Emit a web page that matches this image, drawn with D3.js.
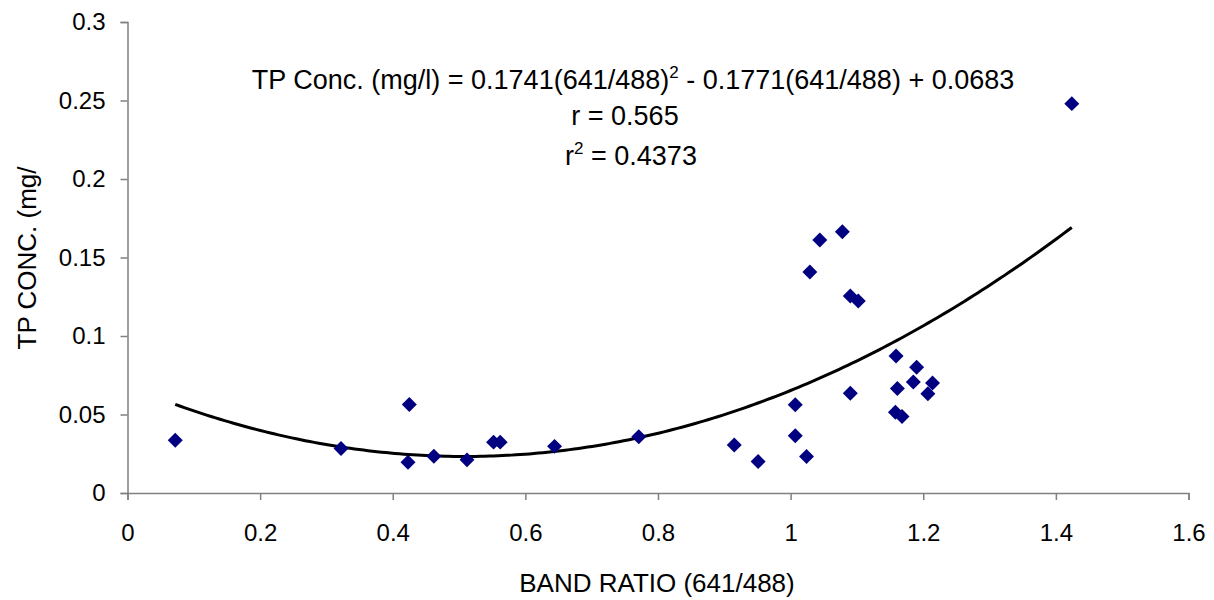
<!DOCTYPE html>
<html>
<head>
<meta charset="utf-8">
<script src="https://cdn.jsdelivr.net/npm/d3@7"></script>
<style>
  html, body { margin: 0; padding: 0; background: #fff; }
  svg { display: block; font-family: "Liberation Sans", Arial, sans-serif; }
</style>
</head>
<body>
<svg id="chart" width="1214" height="600"></svg>
<script>
// Band ratio (641/488) vs. measured total phosphorus concentration
const bandRatio = [
  0.072, 0.322, 0.425, 0.423, 0.462, 0.512, 0.552, 0.562, 0.644, 0.771,
  0.915, 0.951, 1.007, 1.007, 1.024, 1.029, 1.044, 1.078, 1.090, 1.102,
  1.090, 1.159, 1.161, 1.158, 1.168, 1.190, 1.185, 1.214, 1.207, 1.424
];
const tpConc = [
  0.0336, 0.0283, 0.0563, 0.0196, 0.0234, 0.0211, 0.0324, 0.0324, 0.0297, 0.0358,
  0.0306, 0.0200, 0.0562, 0.0365, 0.0232, 0.1408, 0.1611, 0.1664, 0.1255, 0.1223,
  0.0635, 0.0873, 0.0665, 0.0514, 0.0487, 0.0801, 0.0707, 0.0700, 0.0632, 0.2480
];

// Quadratic trend coefficients [a, b, c] : y = a·x² + b·x + c
const trendCoef = [0.1741, -0.1771, 0.0683];

const xTicks = [0, 0.2, 0.4, 0.6, 0.8, 1, 1.2, 1.4, 1.6];
const yTicks = [0, 0.05, 0.1, 0.15, 0.2, 0.25, 0.3];

const svg = d3.select("#chart");
const plot = { left: 127.5, right: 1188.5, top: 22, bottom: 493 };

const x = d3.scaleLinear().domain([0, 1.6]).range([plot.left, plot.right]);
const y = d3.scaleLinear().domain([0, 0.3]).range([plot.bottom, plot.top]);

const axisColor = "#808080";
const tickFont = 24;
const titleFont = 26;
const noteFont = 27;

// Y axis
const yAxis = svg.append("g")
  .attr("transform", `translate(${plot.left},0)`)
  .call(d3.axisLeft(y).tickValues(yTicks).tickSize(7).tickPadding(15)
    .tickFormat(d => String(+d.toFixed(2))));
// X axis
const xAxis = svg.append("g")
  .attr("transform", `translate(0,${plot.bottom})`)
  .call(d3.axisBottom(x).tickValues(xTicks).tickSize(7).tickPadding(24)
    .tickFormat(d => String(+d.toFixed(1))));

[yAxis, xAxis].forEach(g => {
  g.select(".domain").attr("stroke", axisColor).attr("stroke-width", 1.5);
  g.selectAll(".tick line").attr("stroke", axisColor).attr("stroke-width", 1.5);
  g.selectAll(".tick text").attr("fill", "#000").attr("font-size", tickFont)
    .attr("font-family", "'Liberation Sans', Arial, sans-serif");
});

// Trend curve over the observed band-ratio range
const [xMin, xMax] = d3.extent(bandRatio);
const curvePts = d3.range(0, 201).map(i => {
  const t = xMin + (xMax - xMin) * i / 200;
  return [t, trendCoef[0] * t * t + trendCoef[1] * t + trendCoef[2]];
});
svg.append("path")
  .datum(curvePts)
  .attr("fill", "none")
  .attr("stroke", "#000")
  .attr("stroke-width", 3)
  .attr("stroke-linejoin", "round")
  .attr("d", d3.line().x(d => x(d[0])).y(d => y(d[1])));

// Observations as diamonds
const diamond = d3.symbol().type(d3.symbolSquare).size(112);
svg.append("g").selectAll("path")
  .data(bandRatio.map((b, i) => [b, tpConc[i]]))
  .join("path")
  .attr("d", diamond)
  .attr("fill", "#000080")
  .attr("transform", d => `translate(${x(d[0])},${y(d[1])}) rotate(45)`);

// Regression annotation
const note = svg.append("g").attr("font-size", noteFont).attr("fill", "#000")
  .attr("text-anchor", "middle");
const eq = note.append("text").attr("x", 633).attr("y", 89);
eq.append("tspan").text("TP Conc. (mg/l) = 0.1741(641/488)");
eq.append("tspan").attr("dy", -11).attr("font-size", 17).text("2");
eq.append("tspan").attr("dy", 11).text(" - 0.1771(641/488) + 0.0683");
note.append("text").attr("x", 625).attr("y", 125).text("r = 0.565");
const r2 = note.append("text").attr("x", 631).attr("y", 165);
r2.append("tspan").text("r");
r2.append("tspan").attr("dy", -11).attr("font-size", 17).text("2");
r2.append("tspan").attr("dy", 11).text(" = 0.4373");

// Axis titles
svg.append("text")
  .attr("x", 657).attr("y", 592)
  .attr("text-anchor", "middle").attr("font-size", titleFont)
  .text("BAND RATIO (641/488)");
svg.append("text")
  .attr("transform", "translate(36,258) rotate(-90)")
  .attr("text-anchor", "middle").attr("font-size", titleFont)
  .text("TP CONC. (mg/");
</script>
</body>
</html>
